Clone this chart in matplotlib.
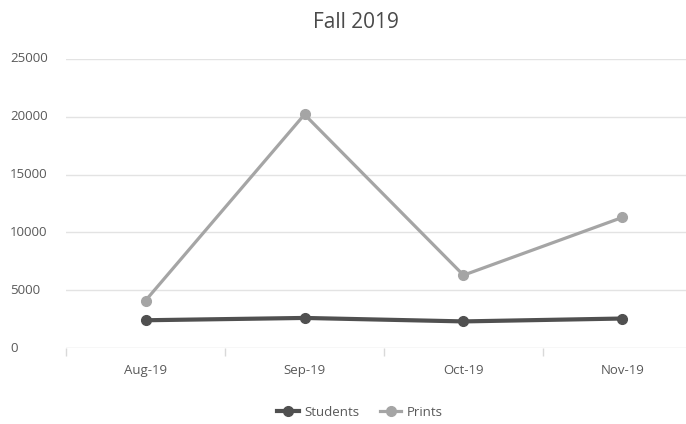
import matplotlib.pyplot as plt
from matplotlib.transforms import blended_transform_factory

months = ['Aug-19', 'Sep-19', 'Oct-19', 'Nov-19']
students = [2400, 2600, 2300, 2550]
prints = [4100, 20200, 6300, 11300]
y_ticks = [0, 5000, 10000, 15000, 20000, 25000]

text_color = '#595959'
plt.rcParams['font.family'] = ['Open Sans', 'DejaVu Sans']

fig = plt.figure(figsize=(6.86, 4.24), dpi=100)
# plot area runs slightly past the right edge of the canvas
ax = fig.add_axes([66 / 686, 1 - 348 / 424, 636 / 686, 289 / 424])

x = range(len(months))
ax.plot(x, prints, color='#a5a5a5', lw=2.3, marker='o', ms=7, label='Prints', zorder=3)
ax.plot(x, students, color='#505050', lw=3.0, marker='o', ms=7, label='Students', zorder=4)

ax.set_xlim(-0.5, len(months) - 0.5)
ax.set_ylim(0, 25000)

# horizontal gridlines
for v in y_ticks[1:]:
    ax.axhline(v, color='#e3e3e3', lw=1.0, zorder=1)
ax.axhline(0, color='#d9d9d9', lw=1.0, zorder=2)

for s in ax.spines.values():
    s.set_visible(False)

ax.set_yticks([])
ax.set_xticks([i - 0.5 for i in range(len(months))])
ax.set_xticklabels([])
ax.tick_params(axis='x', length=6, color='#d9d9d9', width=1)

for i, m in enumerate(months):
    ax.annotate(m, (i, 0), xytext=(0, -16), textcoords='offset points',
                ha='center', va='center', fontsize=9.5, color=text_color)

trans = blended_transform_factory(fig.transFigure, ax.transData)
for v in y_ticks:
    fig.text(10 / 686, v, str(v), transform=trans, ha='left', va='center',
             fontsize=9.5, color=text_color)

fig.text(356 / 686, 1 - 23 / 424, 'Fall 2019', ha='center', va='center',
         fontsize=15, color='#4a4a4a')

handles, labels = ax.get_legend_handles_labels()
fig.legend(handles[::-1], labels[::-1], loc='center', bbox_to_anchor=(360 / 686, 1 - 412 / 424),
           ncol=2, frameon=False, fontsize=9.5, labelcolor=text_color,
           handlelength=1.6, columnspacing=1.6, handletextpad=0.4)

fig.savefig('out.png', dpi=100)
